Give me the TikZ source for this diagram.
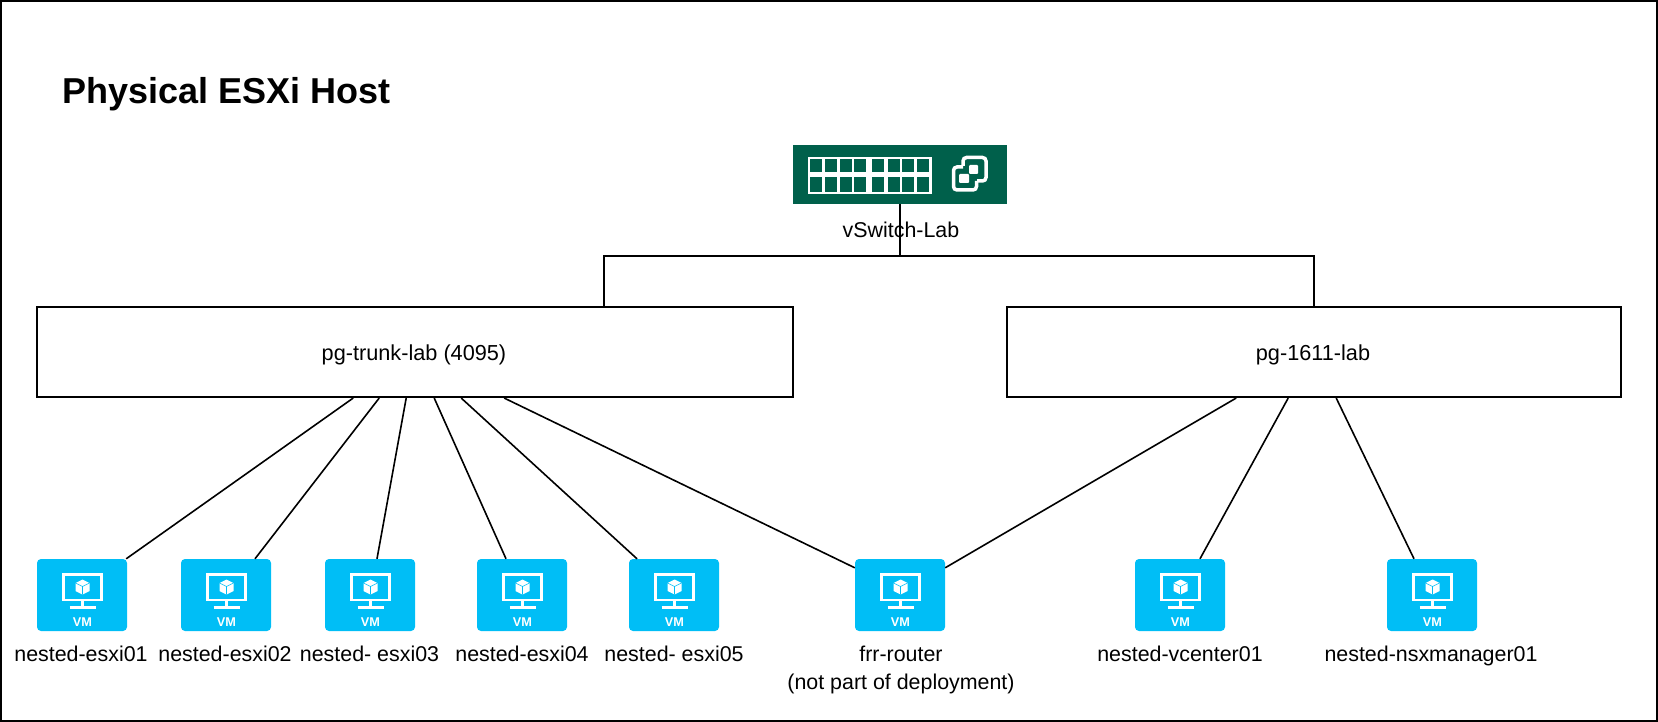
\documentclass[tikz,border=0pt]{standalone}
\usepackage{fontspec}
\setmainfont{Liberation Sans}
\usetikzlibrary{calc}
\definecolor{vmblue}{HTML}{00BEF6}
\definecolor{vsgreen}{HTML}{00604B}
\tikzset{
	pgbox/.style={draw=black, line width=1.6pt, minimum height=90.5pt, inner sep=0pt},
	pglabel/.style={inner sep=0pt, font=\fontsize{21.7}{26}\selectfont},
	vmbox/.style={fill=vmblue, rounded corners=4pt, minimum width=90pt, minimum height=72pt, inner sep=0pt},
	vmlabel/.style={align=center, inner sep=0pt, font=\fontsize{21.4}{28}\selectfont},
	link/.style={draw=black, line width=1.6pt},
}
\newcommand{\vmicon}[1]{
	\draw[white, line width=2.4pt] ($(#1)+(-18.5,-20.5)$) rectangle ($(#1)+(19.5,5)$);
	\draw[white, line width=3pt] ($(#1)+(0.5,6)$) -- ($(#1)+(0.5,12)$);
	\draw[white, line width=2.5pt] ($(#1)+(-12.5,12.5)$) -- ($(#1)+(13.5,12.5)$);
	\fill[white] ($(#1)+(0.5,-15.5)$) -- ($(#1)+(7.5,-12)$) -- ($(#1)+(7.5,-4)$) -- ($(#1)+(0.5,-0.5)$) -- ($(#1)+(-6.5,-4)$) -- ($(#1)+(-6.5,-12)$) -- cycle;
	\draw[vmblue, line width=0.6pt] ($(#1)+(-6.5,-12)$) -- ($(#1)+(0.5,-8.5)$) -- ($(#1)+(7.5,-12)$) ($(#1)+(0.5,-8.5)$) -- ($(#1)+(0.5,-0.5)$);
	\node[white, inner sep=0pt, font=\fontsize{12.7}{13}\selectfont\bfseries] at ($(#1)+(0.5,27)$) {VM};
}
\begin{document}
\begin{tikzpicture}[x=1pt, y=-1pt]
	%%%%% START %%%%%
	\useasboundingbox (0, 0) rectangle (1658, 722);
	\draw[line width=2.6pt] (1, 1) rectangle (1657, 721);

	\node[anchor=west, inner sep=0pt, font=\fontsize{36}{40}\selectfont\bfseries] (title) at (62, 94) {Physical ESXi Host};

	% switch
	\node[fill=vsgreen, minimum width=214pt, minimum height=59pt, inner sep=0pt] (vswitch) at (900, 174.5) {};
	\node[vmlabel] (vswitchlabel) at (901, 230) {vSwitch-Lab};
	\fill[white] (807.7, 156.7) rectangle (931.7, 194);
	\foreach \x in {810.3, 825, 839.7, 854.3, 871.7, 887.7, 902.3, 917} {
		\fill[vsgreen] (\x, 159) rectangle (\x+12, 172.3);
		\fill[vsgreen] (\x, 177.3) rectangle (\x+12, 191.7);
	}
	\draw[white, line width=3.5pt, rounded corners=3.5pt] (963, 166) -- (963, 157.5) -- (986, 157.5) -- (986, 181) -- (977, 181);
	\draw[white, line width=3.5pt, rounded corners=3.5pt] (976.5, 181) -- (976.5, 190) -- (953.5, 190) -- (953.5, 167) -- (963, 167);
	\fill[white, rounded corners=1pt] (959, 174) rectangle (969, 183);
	\fill[white, rounded corners=1pt] (969, 165) rectangle (978, 174);

	% port groups
	\node[pgbox, minimum width=756pt] (pgtrunk) at (415, 352) {};
	\node[pgbox, minimum width=614pt] (pglab) at (1314, 352) {};
	\node[pglabel] (pgtrunklabel) at (414, 355) {pg-trunk-lab (4095)};
	\node[pglabel] (pglablabel) at (1313, 355) {pg-1611-lab};

	\draw[link] (vswitch.south) -- (900, 256);
	\draw[link] ($(pgtrunk.north west)+(568,0)$) |- (900, 256) -| ($(pglab.north west)+(308,0)$);

	% vms
	\foreach \name/\cx/\lx/\txt in {
		vmone/82/81/nested-esxi01,
		vmtwo/226/225/nested-esxi02,
		vmthree/370/369.5/nested- esxi03,
		vmfour/522/522/nested-esxi04,
		vmfive/674/674/nested- esxi05,
		vmsix/900/901/{frr-router\\(not part of deployment)},
		vmseven/1180/1180/nested-vcenter01,
		vmeight/1432/1431/nested-nsxmanager01} {
		\node[vmbox] (\name) at (\cx, 595) {};
		\vmicon{\name}
		\node[vmlabel, anchor=north] at (\lx, 646) {\txt};
	}

	\draw[link] ($(pgtrunk.south west)+(317,0)$) -- ($(vmone.north east)+(-1,0)$);
	\draw[link] ($(pgtrunk.south west)+(343,0)$) -- ($(vmtwo.north)+(29,0)$);
	\draw[link] ($(pgtrunk.south west)+(370,0)$) -- ($(vmthree.north)+(7,0)$);
	\draw[link] ($(pgtrunk.south west)+(398,0)$) -- ($(vmfour.north)+(-16,0)$);
	\draw[link] ($(pgtrunk.south west)+(425,0)$) -- ($(vmfive.north)+(-37,0)$);
	\draw[link] ($(pgtrunk.south west)+(468,0)$) -- ($(vmsix.north west)+(0,9)$);
	\draw[link] ($(pglab.south west)+(230,0)$) -- ($(vmsix.north east)+(0,9)$);
	\draw[link] ($(pglab.south west)+(282,0)$) -- ($(vmseven.north)+(20,0)$);
	\draw[link] ($(pglab.south west)+(330,0)$) -- ($(vmeight.north)+(-18,0)$);
	%%%%% END %%%%%
\end{tikzpicture}
\end{document}
